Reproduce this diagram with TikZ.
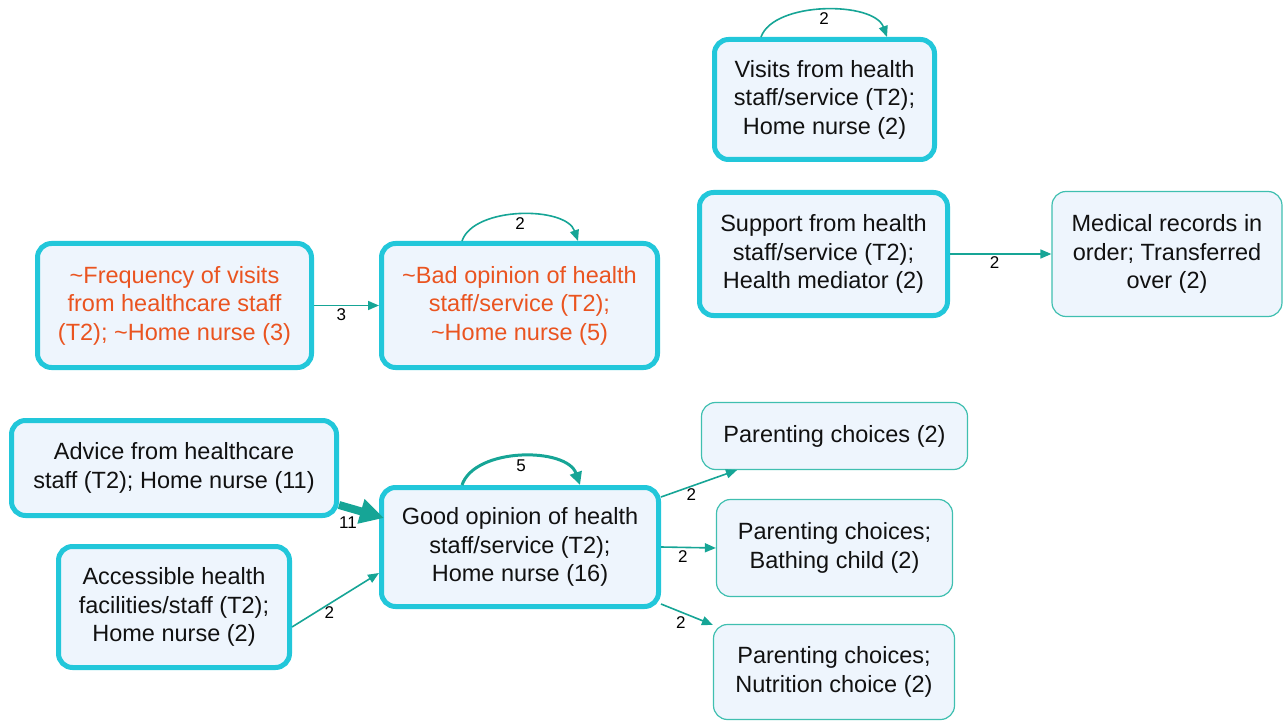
\documentclass[tikz,border=0pt]{standalone}
\usepackage{fontspec}
\setmainfont{Liberation Sans}
\usetikzlibrary{arrows.meta,calc}
\definecolor{bordc}{HTML}{22C7DA}
\definecolor{fillc}{HTML}{EEF5FD}
\definecolor{edgec}{HTML}{16A596}
\definecolor{thinc}{HTML}{3FBFB0}
\definecolor{orangec}{HTML}{EA5420}
\definecolor{txtc}{HTML}{111111}
\begin{document}
\begin{tikzpicture}[x=1pt,y=-1pt,
 box/.style={draw=bordc, fill=fillc, rounded corners=14pt, line width=5pt, inner sep=0pt, align=center, text=txtc, font=\fontsize{23.5}{28.5}\selectfont},
 thinbox/.style={box, draw=thinc, line width=1.2pt},
 redtext/.style={text=orangec},
 conn/.style={draw=edgec, line width=1.6pt, -{Triangle[length=11pt,width=9pt]}},
 lab/.style={font=\fontsize{17}{17}\selectfont, text=black, inner sep=2pt}
]
\useasboundingbox (0,0) rectangle (1283,722);

\node[box, minimum width=220pt, minimum height=120pt] (vis) at (824.5,99.5) {Visits from health\\staff/service (T2);\\Home nurse (2)};
\node[box, minimum width=248pt, minimum height=123pt] (sup) at (823.5,254) {Support from health\\staff/service (T2);\\Health mediator (2)};
\node[thinbox, minimum width=230pt, minimum height=125pt] (med) at (1167,254) {Medical records in\\order; Transferred\\over (2)};
\node[box, redtext, minimum width=274pt, minimum height=124pt] (freq) at (174.5,305.5) {\textasciitilde Frequency of visits\\from healthcare staff\\(T2); \textasciitilde Home nurse (3)};
\node[box, redtext, minimum width=276pt, minimum height=124pt] (bad) at (519.5,305.5) {\textasciitilde Bad opinion of health\\staff/service (T2);\\\textasciitilde Home nurse (5)};
\node[box, minimum width=325pt, minimum height=95pt] (adv) at (174,468) {Advice from healthcare\\staff (T2); Home nurse (11)};
\node[box, minimum width=231pt, minimum height=121pt] (acc) at (174,607) {Accessible health\\facilities/staff (T2);\\Home nurse (2)};
\node[box, minimum width=277pt, minimum height=119pt] (good) at (520,547) {Good opinion of health\\staff/service (T2);\\Home nurse (16)};
\node[thinbox, minimum width=266pt, minimum height=67pt] (p1) at (834.5,436) {Parenting choices (2)};
\node[thinbox, minimum width=236pt, minimum height=97pt] (bath) at (834.5,548) {Parenting choices;\\Bathing child (2)};
\node[thinbox, minimum width=241pt, minimum height=95pt] (nut) at (834,672) {Parenting choices;\\Nutrition choice (2)};

% self loops
\draw[conn] ([xshift=-63.5pt]vis.north) .. controls +(13,-36) and +(-13,-36) .. ([xshift=62.5pt]vis.north) node[lab, midway, below=0pt] {2};
\draw[conn] ([xshift=-57.5pt]bad.north) .. controls +(12,-35) and +(-12,-35) .. ([xshift=58.5pt]bad.north) node[lab, midway, below=0pt] {2};
\draw[conn, line width=3pt, -{Triangle[length=13pt,width=12pt]}] ([xshift=-58pt]good.north) .. controls +(13,-38) and +(-13,-38) .. ([xshift=60pt]good.north) node[lab, midway, below=0pt] {5};

% edges
\draw[conn] (freq.east) -- (bad.west) node[lab, pos=0.42, below] {3};
\draw[conn] (sup.east) -- (med.west) node[lab, pos=0.44, below] {2};
\draw[conn, line width=8pt, -{Triangle[length=24pt,width=24pt]}] ([yshift=-37pt]adv.east) -- ([xshift=5pt,yshift=29pt]good.west) node[lab, pos=0.2, below=3pt] {11};
\draw[conn] ([yshift=-20pt]acc.east) -- ([yshift=-26pt]good.west) node[lab, pos=0.43, below] {2};
\draw[conn] ([yshift=50pt]good.east) -- ([xshift=-97.5pt]p1.south) node[lab, pos=0.4, below] {2};
\draw[conn] (good.east) -- (bath.west) node[lab, pos=0.4, below] {2};
\draw[conn] ([yshift=-57pt]good.east) -- ([xshift=0pt,yshift=-1pt]nut.north west) node[lab, pos=0.38, below=2pt] {2};
\end{tikzpicture}
\end{document}
